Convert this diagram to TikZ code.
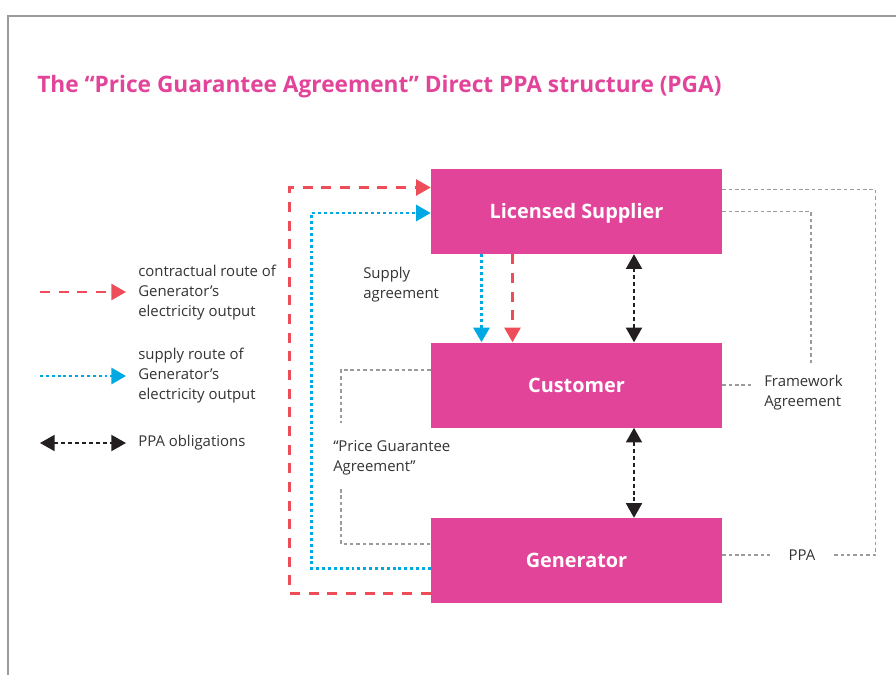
\documentclass[tikz,border=0pt]{standalone}
\usepackage{fontspec}
\setmainfont{Open Sans}
\usetikzlibrary{arrows.meta,calc,positioning}

\definecolor{pgapink}{HTML}{E2449A}
\definecolor{routered}{HTML}{EE4C58}
\definecolor{routeblue}{HTML}{00A9E3}
\definecolor{obligblack}{HTML}{231F20}
\definecolor{agreegrey}{HTML}{9B9B9B}
\definecolor{txtgrey}{HTML}{333333}

\begin{document}
\begin{tikzpicture}[
     x = 0.75pt, y = -0.75pt, % pixel grid, y downwards
     > = {Triangle[length=11pt, width=12pt]}, % arrow head style
     font = \fontsize{11.2}{15}\selectfont, % body text
     text = txtgrey
 ]

 \tikzstyle{process}=[
     fill = pgapink,
     text = white,
     inner sep = 0pt,
     minimum width = 218.25pt,
     minimum height = 63.75pt,
     text height = 10.6pt,
     text depth = 0pt,
     font = \fontsize{14.9}{18}\selectfont\bfseries
 ]
 \tikzstyle{txt} = [inner sep=0pt, align=left]
 \tikzstyle{contract} = [->, routered, line width=1.9pt,
     dash pattern=on 7.5pt off 6.5pt]
 \tikzstyle{supply} = [->, routeblue, line width=2.2pt,
     dash pattern=on 2.2pt off 2.2pt]
 \tikzstyle{oblig} = [<->, obligblack, line width=1.5pt,
     dash pattern=on 3pt off 2.2pt]
 \tikzstyle{agree} = [agreegrey, line width=1.3pt,
     dash pattern=on 2.6pt off 2.2pt]

 \useasboundingbox (0,0) rectangle (896,675);
 % frame
 \draw[agreegrey, line width=0.8pt] (8,675) -- (8,16) -- (896,16);

 \node[txt, anchor=base west, text=pgapink,
   font=\fontsize{17}{20}\selectfont\bfseries] (title) at (37,92)
   {The “Price Guarantee Agreement” Direct PPA structure (PGA)};

 % boxes
 \node[process] (sup) at (576.5,211.5) {Licensed Supplier};
 \node[process] (cust) [below=66pt of sup] {Customer};
 \node[process] (gen) [below=67.5pt of cust] {Generator};

 % labels
 \node[txt, anchor=north west] (supag) at (363,267) {Supply\\agreement};
 \node[txt, anchor=north west] (pga) at (333,440) {“Price Guarantee\\Agreement”};
 \node[txt, anchor=north west] (fw) at (764,375) {Framework\\Agreement};
 \node[txt, inner xsep=13.5pt] (ppa) at (802,555) {PPA};

 % routes of the output
 \draw[contract] ($(gen.west)+(0,33)$) -- ++(-141,0) |- ($(sup.west)+(0,-24)$);
 \draw[supply] ($(gen.west)+(0,8)$) -- ++(-119,0) |- ($(sup.west)+(0,1.5)$);
 \draw[supply] ($(sup.south)+(-95,0)$) -- ($(cust.north)+(-95,0)$);
 \draw[contract] ($(sup.south)+(-64,0)$) -- ($(cust.north)+(-64,0)$);

 % obligations
 \draw[oblig] ($(sup.south)+(57.5,0)$) -- ($(cust.north)+(57.5,0)$);
 \draw[oblig] ($(cust.south)+(57.5,0)$) -- ($(gen.north)+(57.5,0)$);

 % agreements
 \draw[agree] ($(cust.west)+(0,-15)$) -| ($(pga.north west)+(8,-17)$);
 \draw[agree] ($(pga.south west)+(8,14)$) |- ($(gen.west)+(0,-16.5)$);
 \draw[agree] (sup.east) -| ($(fw.north west)+(47,-11)$);
 \draw[agree] (cust.east) -- ($(fw.west |- cust.east)+(-12,0)$);
 \draw[agree] ($(sup.east)+(0,-22)$) -| ($(ppa.east)+(42,0)$) -- (ppa.east);
 \draw[agree] (gen.east |- ppa.west) -- (ppa.west);

 % legend
 \node[txt, anchor=west] (leg1) at (138,293) {contractual route of\\Generator’s\\electricity output};
 \node[txt, anchor=west] (leg2) at (138,376) {supply route of\\Generator’s\\electricity output};
 \node[txt, anchor=west] (leg3) at (138,443) {PPA obligations};
 \coordinate (l1) at (40,292);
 \coordinate (l2) at (40,376);
 \coordinate (l3) at (40,443);
 \draw[contract] (l1) -- ($(leg1.west |- l1)+(-12,0)$);
 \draw[supply] (l2) -- ($(leg2.west |- l2)+(-12,0)$);
 \draw[oblig] (l3) -- ($(leg3.west)+(-12,0)$);
\end{tikzpicture}
\end{document}
